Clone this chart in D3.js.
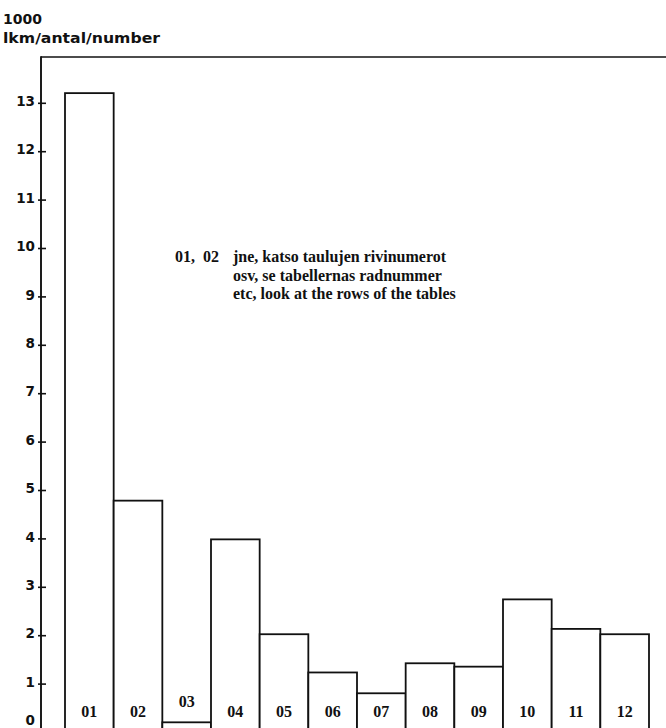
<!DOCTYPE html>
<html>
<head>
<meta charset="utf-8">
<script src="https://cdn.jsdelivr.net/npm/d3@7"></script>
<style>
  html, body { margin: 0; padding: 0; background: #fff; }
  svg { display: block; }
</style>
</head>
<body>
<svg id="chart" width="666" height="728"></svg>
<script>
// ---- data ----
const categories = ["01","02","03","04","05","06","07","08","09","10","11","12"];
const values = [13.2, 4.78, 0.2, 3.98, 2.02, 1.23, 0.8, 1.42, 1.35, 2.74, 2.13, 2.02];
const yTicks = [0,1,2,3,4,5,6,7,8,9,10,11,12,13];
const titleLines = ["1000", "lkm/antal/number"];
const noteLead = "01,  02";
const noteLines = ["jne, katso taulujen rivinumerot", "osv, se tabellernas radnummer", "etc, look at the rows of the tables"];

// ---- layout ----
const svg = d3.select("#chart");
const axisX = 41, topY = 57;
const y = d3.scaleLinear().domain([0, 13]).range([732, 102.8]);
const x = d3.scaleBand().domain(categories).range([65, 649]).padding(0);

const ink = "#111";

// title
svg.append("text").attr("x", 3).attr("y", 24)
  .attr("font-family", "DejaVu Sans").attr("font-weight", "bold").attr("font-size", 14)
  .attr("fill", ink).text(titleLines[0]);
svg.append("text").attr("x", 3).attr("y", 43)
  .attr("font-family", "DejaVu Sans").attr("font-weight", "bold").attr("font-size", 13.8)
  .attr("textLength", 157).attr("lengthAdjust", "spacingAndGlyphs")
  .attr("fill", ink).text(titleLines[1]);

// frame: top line and left axis line
svg.append("line").attr("x1", axisX).attr("x2", 666).attr("y1", topY).attr("y2", topY)
  .attr("stroke", ink).attr("stroke-width", 1.7);
svg.append("line").attr("x1", axisX).attr("x2", axisX).attr("y1", topY - 0.8).attr("y2", 740)
  .attr("stroke", ink).attr("stroke-width", 1.9);

// y axis
const yAxis = d3.axisLeft(y).tickValues(yTicks).tickSize(0).tickPadding(0).tickFormat(d3.format("d"));
const gy = svg.append("g").attr("transform", `translate(${axisX},0)`).call(yAxis);
gy.select(".domain").remove();
gy.selectAll(".tick line").attr("x1", -3).attr("x2", 5).attr("stroke", ink).attr("stroke-width", 1.6);
gy.selectAll(".tick text")
  .attr("x", -6).attr("dy", "0.2em")
  .attr("y", d => Math.min(0, 722 - y(d)))
  .attr("font-family", "DejaVu Sans").attr("font-weight", "bold").attr("font-size", 13.5)
  .attr("fill", ink);

// bars
const bars = svg.append("g");
bars.selectAll("rect").data(categories).join("rect")
  .attr("x", d => x(d))
  .attr("y", (d, i) => y(values[i]))
  .attr("width", x.bandwidth())
  .attr("height", (d, i) => y(0) - y(values[i]) + 10)
  .attr("fill", "#fff").attr("stroke", ink).attr("stroke-width", 1.8);

// bar labels: near the base, lifted above bars that are too short
bars.selectAll("text").data(categories).join("text")
  .attr("x", d => x(d) + x.bandwidth() / 2)
  .attr("y", (d, i) => y(values[i]) > 702 ? y(values[i]) - 15 : 717)
  .attr("text-anchor", "middle")
  .attr("font-family", "Liberation Serif").attr("font-weight", "bold").attr("font-size", 16)
  .attr("fill", ink).text(d => d);

// annotation
const note = svg.append("g")
  .attr("font-family", "Liberation Serif").attr("font-weight", "bold").attr("font-size", 16)
  .attr("fill", ink);
note.append("text").attr("x", 175).attr("y", 262).style("white-space", "pre").text(noteLead);
noteLines.forEach((t, i) => {
  note.append("text").attr("x", 233).attr("y", 262 + i * 18.5).text(t);
});
</script>
</body>
</html>
